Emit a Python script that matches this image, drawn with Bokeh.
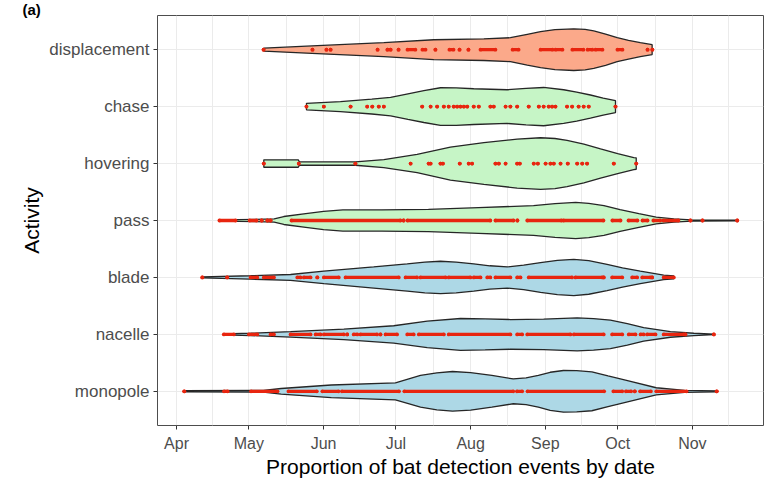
from bokeh.plotting import figure
from bokeh.models import FixedTicker
from bokeh.embed import file_html
from bokeh.resources import INLINE

# ---------------- data ----------------
activities = ["monopole", "nacelle", "blade", "pass", "hovering", "chase", "displacement"]
month_days = [91, 121, 152, 182, 213, 244, 274, 305]          # day of year, 1st of month
month_labels = ["Apr", "May", "Jun", "Jul", "Aug", "Sep", "Oct", "Nov"]
mid_month_days = [106, 136.5, 167, 197.5, 228.5, 259, 289.5, 320]

# violin outlines: date (day of year) and half-width (in category units)
displacement_dates = [127.2, 149.4, 177.0, 197.7, 218.5, 229.5, 236.5, 242.0, 248.0, 255.8, 260.5, 264.1, 269.0, 273.8, 278.5, 283.4, 288.3]
displacement_hw = [0.026, 0.07, 0.122, 0.174, 0.19, 0.21, 0.27, 0.315, 0.352, 0.366, 0.355, 0.33, 0.275, 0.21, 0.165, 0.122, 0.087]

chase_dates = [144.9, 159.0, 172.0, 179.8, 187.0, 193.6, 200.5, 207.0, 214.3, 228.2, 236.0, 243.3, 251.6, 257.0, 262.7, 268.0, 273.1]
chase_hw = [0.057, 0.087, 0.13, 0.162, 0.225, 0.279, 0.331, 0.33, 0.314, 0.296, 0.32, 0.336, 0.296, 0.255, 0.204, 0.15, 0.105]

hovering_dates = [127.2, 141.5, 142.0, 165.2, 177.0, 190.8, 204.6, 218.5, 232.3, 242.0, 248.0, 253.0, 260.0, 266.9, 274.0, 280.7, 281.7]
hovering_hw = [0.065, 0.065, 0.028, 0.03, 0.07, 0.16, 0.29, 0.366, 0.43, 0.453, 0.44, 0.406, 0.34, 0.256, 0.175, 0.105, 0.1]

pass_dates = [109.0, 124.0, 131.5, 135.5, 144.6, 152.0, 160.0, 176.0, 195.5, 216.3, 239.1, 248.0, 256.6, 262.0, 268.3, 275.0, 282.8, 290.0, 297.3, 304.6, 323.6]
pass_hw = [0.012, 0.02, 0.03, 0.07, 0.12, 0.16, 0.185, 0.185, 0.195, 0.226, 0.261, 0.295, 0.317, 0.3, 0.261, 0.19, 0.122, 0.06, 0.03, 0.012, 0.008]

blade_dates = [101.7, 121.7, 138.3, 152.1, 172.8, 186.7, 194.0, 200.5, 207.0, 214.3, 221.0, 228.2, 235.0, 242.0, 249.0, 255.8, 262.0, 269.6, 276.0, 283.4, 293.1, 297.3]
blade_hw = [0.009, 0.03, 0.052, 0.11, 0.186, 0.239, 0.27, 0.284, 0.27, 0.239, 0.205, 0.186, 0.215, 0.261, 0.3, 0.319, 0.295, 0.23, 0.17, 0.11, 0.04, 0.026]

nacelle_dates = [110.6, 121.7, 138.3, 160.4, 181.1, 195.0, 208.8, 219.0, 229.5, 243.3, 257.2, 264.0, 271.0, 278.0, 284.8, 295.9, 305.6, 313.9]
nacelle_hw = [0.01, 0.02, 0.047, 0.092, 0.152, 0.232, 0.279, 0.272, 0.261, 0.267, 0.291, 0.278, 0.249, 0.19, 0.12, 0.05, 0.02, 0.005]

monopole_dates = [94.2, 127.0, 134.4, 155.2, 181.8, 192.2, 199.0, 205.5, 213.0, 221.8, 230.7, 236.0, 241.1, 246.0, 251.5, 257.0, 263.3, 270.0, 278.1, 290.0, 301.8, 315.1]
monopole_hw = [0.01, 0.015, 0.05, 0.111, 0.15, 0.279, 0.325, 0.348, 0.33, 0.279, 0.218, 0.235, 0.279, 0.335, 0.366, 0.362, 0.341, 0.27, 0.186, 0.063, 0.017, 0.009]

# detection events: start / end day of runs of detections (single events: start == end)
displacement_start = [127.1, 147.4, 153.2, 154.9, 174.4, 178.5, 179.8, 183.1, 186.8, 193.0, 198.4, 204.2, 208.4, 212.1, 217.1, 230.4, 242.0, 248.2, 255.2, 261.5, 264.8, 273.9, 286.4, 288.4]
displacement_end = [127.1, 147.4, 153.2, 154.9, 174.4, 178.5, 179.8, 183.1, 190.1, 194.3, 198.4, 205.9, 208.4, 212.1, 223.3, 232.9, 247.0, 251.1, 259.8, 263.5, 267.7, 276.0, 286.4, 288.4]

chase_start = [144.9, 152.1, 163.2, 170.1, 172.2, 174.9, 177.0, 192.9, 196.4, 199.1, 201.9, 203.9, 206.0, 207.4, 208.8, 210.2, 211.6, 214.3, 216.4, 221.2, 222.6, 227.5, 229.5, 232.3, 237.1, 241.3, 243.3, 245.4, 246.8, 248.2, 253.0, 255.1, 257.8, 259.9, 262.0, 273.1]
chase_end = [144.9, 152.1, 163.2, 170.1, 172.2, 174.9, 177.0, 192.9, 196.4, 199.1, 201.9, 203.9, 206.0, 207.4, 208.8, 210.2, 211.6, 214.3, 216.4, 221.2, 222.6, 227.5, 229.5, 232.3, 237.1, 241.3, 243.3, 245.4, 246.8, 248.2, 253.0, 255.1, 257.8, 259.9, 262.0, 273.1]

hovering_start = [127.2, 141.7, 165.2, 188.1, 195.6, 196.4, 200.5, 201.5, 208.5, 212.2, 213.6, 223.3, 224.7, 227.5, 232.3, 233.4, 239.2, 240.9, 244.1, 246.1, 247.5, 250.3, 253.3, 257.2, 259.3, 261.3, 272.4, 281.7]
hovering_end = [127.2, 141.7, 165.2, 188.1, 195.6, 196.4, 200.5, 201.5, 208.5, 212.2, 213.6, 223.3, 224.7, 227.5, 232.3, 233.4, 239.2, 240.9, 244.1, 246.1, 247.5, 250.3, 253.3, 257.2, 259.3, 261.3, 272.4, 281.7]

pass_start = [108.8, 121.3, 126.3, 128.7, 130.0, 138.7, 185.2, 186.8, 223.3, 232.4, 236.5, 251.5, 271.8, 278.5, 284.3, 288.8, 293.0, 304.2, 309.2, 323.6]
pass_end = [115.5, 124.2, 126.3, 128.7, 130.0, 183.9, 185.2, 221.2, 230.8, 232.4, 250.7, 268.1, 275.2, 282.2, 286.4, 291.7, 299.2, 304.2, 309.2, 323.6]

blade_start = [101.7, 112.0, 121.7, 127.2, 141.1, 143.8, 149.4, 152.1, 161.1, 186.0, 192.2, 203.9, 214.3, 219.9, 223.3, 232.3, 237.1, 256.5, 268.2, 271.7, 280.0, 284.2, 288.3, 293.1]
blade_end = [101.7, 112.0, 124.5, 131.4, 142.4, 146.6, 149.4, 158.3, 183.2, 190.8, 202.6, 212.9, 217.1, 221.2, 229.5, 233.7, 255.1, 267.6, 268.2, 275.9, 282.1, 287.6, 288.3, 297.3]

nacelle_start = [110.6, 121.0, 130.0, 138.3, 148.7, 152.1, 161.8, 164.5, 167.3, 175.6, 177.7, 186.7, 191.5, 203.9, 232.3, 236.5, 255.8, 271.7, 278.6, 283.5, 286.2, 293.1, 302.1, 313.9]
nacelle_end = [114.8, 124.5, 131.4, 146.6, 150.7, 160.4, 161.8, 166.0, 174.2, 175.6, 182.5, 189.4, 201.9, 229.5, 234.4, 254.4, 268.2, 275.9, 281.4, 284.8, 289.7, 301.4, 302.1, 313.9]

monopole_start = [94.2, 110.7, 121.9, 137.4, 151.5, 159.6, 185.5, 232.2, 236.6, 272.2, 277.4, 281.1, 283.3, 290.0, 315.1]
monopole_end = [94.2, 112.2, 132.9, 149.2, 158.2, 183.3, 230.7, 234.4, 268.4, 275.9, 279.6, 281.1, 287.8, 302.6, 315.1]

fill_colors = {"displacement": "#FBA98A", "chase": "#C6F5C6", "hovering": "#C6F5C6", "pass": "#C6F5C6",
               "blade": "#ADD8E6", "nacelle": "#ADD8E6", "monopole": "#ADD8E6"}

outlines = {"displacement": (displacement_dates, displacement_hw), "chase": (chase_dates, chase_hw),
            "hovering": (hovering_dates, hovering_hw), "pass": (pass_dates, pass_hw),
            "blade": (blade_dates, blade_hw), "nacelle": (nacelle_dates, nacelle_hw),
            "monopole": (monopole_dates, monopole_hw)}
events = {"displacement": (displacement_start, displacement_end), "chase": (chase_start, chase_end),
          "hovering": (hovering_start, hovering_end), "pass": (pass_start, pass_end),
          "blade": (blade_start, blade_end), "nacelle": (nacelle_start, nacelle_end),
          "monopole": (monopole_start, monopole_end)}

# ---------------- figure ----------------
FONT = "Liberation Sans"
RED = "#E8250F"
GRID = "#EBEBEB"

p = figure(width=768, height=480, x_range=(83.1, 334.5), y_range=(0.4, 7.6),
           output_backend="svg", toolbar_location=None, title="(a)",
           min_border_left=157, min_border_right=5, min_border_top=15, min_border_bottom=52)
p.background_fill_color = "white"
p.border_fill_color = "white"
p.outline_line_color = "#4D4D4D"
p.outline_line_width = 1

# panel tag "(a)" in the top-left corner
p.title.align = "left"
p.title.offset = 22 - 157
p.title.standoff = -5
p.title.text_font = FONT
p.title.text_font_style = "bold"
p.title.text_font_size = "15px"
p.title.text_color = "black"

for i, act in enumerate(activities):
    yc = i + 1
    d, hw = outlines[act]
    xs = list(d) + list(d)[::-1]
    ys = [yc + h for h in hw] + [yc - h for h in hw[::-1]]
    p.patch(xs, ys, fill_color=fill_colors[act], line_color="#262626", line_width=1.3)

for i, act in enumerate(activities):
    yc = i + 1
    s, e = events[act]
    p.segment(x0=s, y0=[yc] * len(s), x1=e, y1=[yc] * len(e), line_color=RED, line_width=3.3, line_cap="butt")
    p.scatter(x=list(s) + list(e), y=[yc] * (len(s) + len(e)), size=3.8, fill_color=RED, line_color=None)

# axes
p.xaxis.ticker = FixedTicker(ticks=month_days, minor_ticks=mid_month_days)
p.xaxis.major_label_overrides = {d: lab for d, lab in zip(month_days, month_labels)}
p.yaxis.ticker = FixedTicker(ticks=list(range(1, len(activities) + 1)))
p.yaxis.major_label_overrides = {i + 1: a for i, a in enumerate(activities)}

for ax in (p.xaxis, p.yaxis):
    ax.axis_line_color = None
    ax.major_tick_line_color = "#333333"
    ax.major_tick_out = 4
    ax.major_tick_in = 0
    ax.minor_tick_line_color = None
    ax.major_label_text_font = FONT
    ax.major_label_text_color = "#4D4D4D"
    ax.axis_label_text_font = FONT
    ax.axis_label_text_font_style = "normal"
    ax.axis_label_text_color = "black"
    ax.axis_label_text_font_size = "21px"

p.xaxis.major_label_text_font_size = "16px"
p.yaxis.major_label_text_font_size = "17px"
p.xaxis.major_label_standoff = 5
p.yaxis.major_label_standoff = 4
p.xaxis.axis_label_standoff = 0
p.yaxis.axis_label_standoff = 3
p.xaxis.axis_label = "Proportion of bat detection events by date"
p.yaxis.axis_label = "Activity"

p.xgrid.grid_line_color = GRID
p.xgrid.minor_grid_line_color = GRID
p.ygrid.grid_line_color = GRID

open("out.html", "w").write(file_html(p, INLINE))
